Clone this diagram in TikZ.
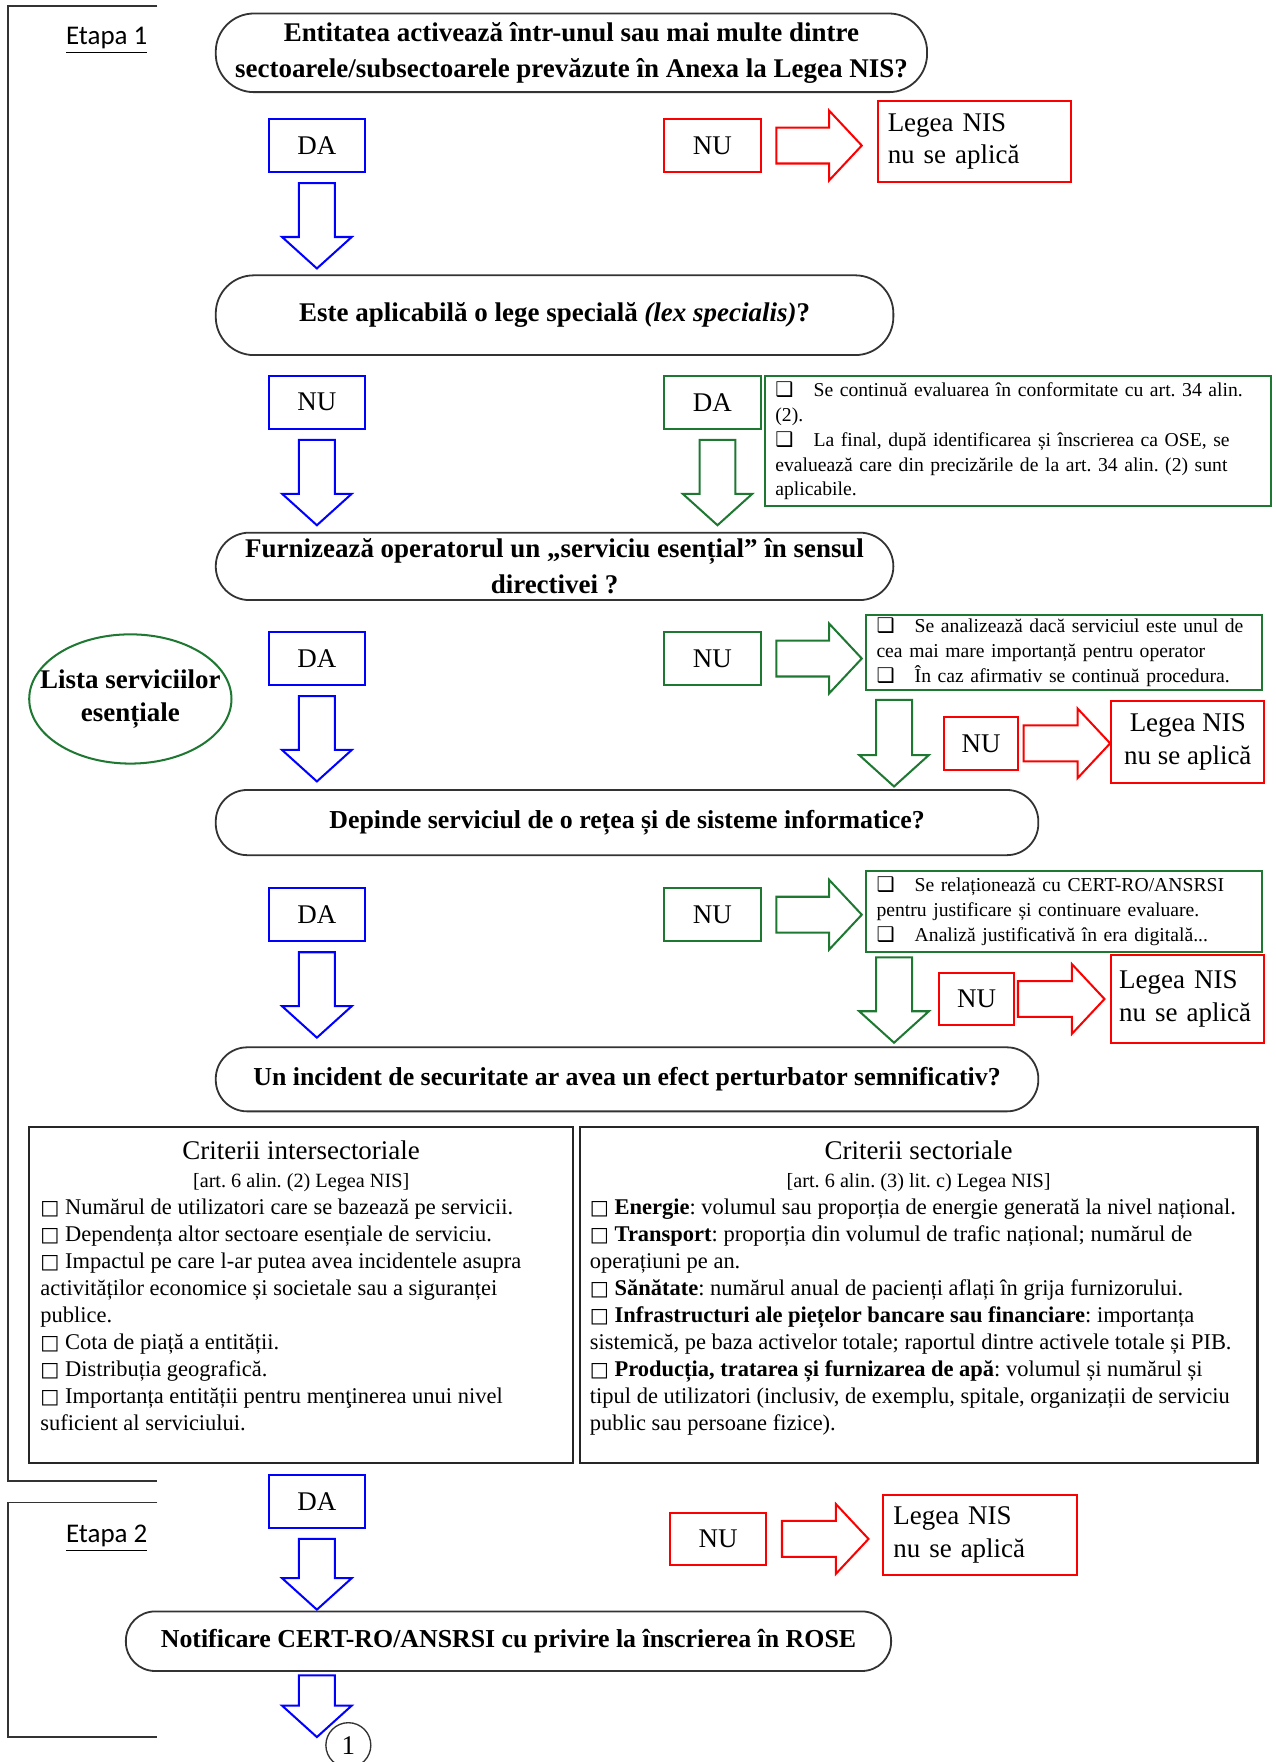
\documentclass[tikz,border=0pt]{standalone}
\usepackage{fontspec}
\setmainfont{Liberation Serif}
\newfontfamily\calibri{Carlito}
\newfontfamily\simbol{DejaVu Sans}
\usetikzlibrary{shapes,arrows,positioning,calc}
\frenchspacing
\definecolor{albastru}{RGB}{0,0,255}
\definecolor{rosu}{RGB}{250,0,0}
\definecolor{verde}{RGB}{30,120,50}
\newcommand{\bifa}{\makebox[17pt][l]{\simbol\fontsize{9}{8}\selectfont ❑}}
\newcommand{\casuta}{{\simbol\fontsize{9}{8}\selectfont □}}
\newcommand{\flechajos}[3]{\draw[sageata,#1] (#2) ++(-16,0) -- ++(32,0) -- ++(0,{#3-28}) -- ++(15,0) -- ++(-31,28) -- ++(-31,-28) -- ++(15,0) -- cycle;}
\newcommand{\flechadreapta}[3]{\draw[sageata,#1] (#2) ++(0,-16) -- ++({#3-29},0) -- ++(0,-15) -- ++(29,31) -- ++(-29,31) -- ++(0,-15) -- ++({29-#3},0) -- cycle;}
\tikzstyle{intrebare} = [draw=black!80, line width=0.8pt, rounded corners=14pt, inner sep=0pt, font=\bfseries\fontsize{11.5}{16}\selectfont, align=center]
\tikzstyle{mare} = [font=\bfseries\fontsize{12}{16}\selectfont]
\tikzstyle{raspuns} = [draw, line width=0.9pt, minimum width=43pt, minimum height=23.5pt, inner sep=0pt, font=\fontsize{12}{14}\selectfont]
\tikzstyle{nuaplica} = [draw=rosu, line width=0.9pt, inner ysep=0pt, font=\fontsize{12}{14.5}\selectfont]
\tikzstyle{nota} = [draw=verde, line width=0.9pt, inner xsep=4.5pt, inner ysep=0pt, align=left, font=\fontsize{8.75}{11}\selectfont]
\tikzstyle{criteriu} = [draw=black!85, line width=1pt, inner xsep=5pt, inner ysep=4pt]
\tikzstyle{sageata} = [line width=0.9pt, line join=miter]
\tikzstyle{etapa} = [font=\calibri\fontsize{12}{14}\selectfont]
\tikzstyle{cadru} = [line width=0.8pt, black!80]

\begin{document}
\begin{tikzpicture}[x=0.5pt, y=-0.5pt]
	\useasboundingbox (0,0) rectangle (1135,1568);
	\draw[cadru] (140,5) -- (7,5) -- (7,1318) -- (140,1318);
	\draw[cadru] (140,1337) -- (7,1337) -- (7,1546) -- (140,1546);
	\node[etapa] (etapa1) at (95,36) {\underline{Etapa 1}};
	\node[etapa] (etapa2) at (95,1369) {\underline{Etapa 2}};

	\node[intrebare, mare, minimum width=316.5pt, minimum height=35pt, rounded corners=17pt] (q1) at (508.5,47) {Entitatea activează într-unul sau mai multe dintre\\sectoarele/subsectoarele prevăzute în Anexa la Legea NIS?};
	\node[raspuns, draw=albastru] (da1) at (282,129.5) {DA};
	\node[raspuns, draw=rosu] (nu1) at (634,129.5) {NU};
	\node[nuaplica, minimum width=86pt, minimum height=36pt, text width=77pt, inner xsep=4.5pt, align=left] (na1) at (867,126) {Legea NIS\\nu se aplică};
	\flechajos{albastru}{$(da1.south)+(0,9)$}{76}
	\flechadreapta{rosu}{$(nu1.east)+(13,0)$}{76}

	\node[intrebare, mare, minimum width=301.5pt, minimum height=35.5pt, rounded corners=17pt] (q2) at (493.5,280.5) {Este aplicabilă o lege specială \textit{(lex specialis)}?};
	\node[raspuns, draw=albastru] (nu2) at (282,358) {NU};
	\node[raspuns, draw=verde] (da2) at (634,358) {DA};
	\node[nota, minimum width=225pt, minimum height=57.5pt, text width=216pt] (n1) at (906,392.5) {\bifa Se continuă evaluarea în conformitate cu art. 34 alin.\\(2).\\\bifa La final, după identificarea și înscrierea ca OSE, se\\evaluează care din precizările de la art. 34 alin. (2) sunt\\aplicabile.};
	\flechajos{albastru}{$(nu2.south)+(0,9)$}{76}
	\flechajos{verde}{$(da2.south)+(4.5,9)$}{76}

	\node[intrebare, mare, minimum width=301.5pt, minimum height=30pt, rounded corners=15pt] (q3) at (493.5,504) {Furnizează operatorul un „serviciu esențial” în sensul\\directivei ?};
	\node[ellipse, draw=verde, line width=0.9pt, minimum width=90pt, minimum height=57.5pt, inner sep=0pt] (lista) at (116,622) {};
	\node[font=\bfseries\fontsize{12}{14.5}\selectfont, align=center] (listatext) at (lista) {Lista serviciilor\\esențiale};
	\node[raspuns, draw=albastru] (da3) at (282,586) {DA};
	\node[raspuns, draw=verde] (nu3) at (634,586) {NU};
	\node[nota, minimum width=176pt, minimum height=33.5pt, text width=167pt] (n2) at (947,580.5) {\bifa Se analizează dacă serviciul este unul de\\cea mai mare importanță pentru operator\\\bifa În caz afirmativ se continuă procedura.};
	\flechajos{albastru}{$(da3.south)+(0,9)$}{76}
	\flechadreapta{verde}{$(nu3.east)+(13,0)$}{76}
	\flechajos{verde}{$(n2.south west)+(25.5,8)$}{77}
	\node[raspuns, draw=rosu, minimum width=33pt] (nu4) at (873,661.5) {NU};
	\node[nuaplica, minimum width=68pt, minimum height=36.5pt, inner xsep=0pt, align=center] (na2) at (1057,660.5) {Legea NIS\\nu se aplică};
	\flechadreapta{rosu}{$(nu4.east)+(4,0)$}{77}

	\node[intrebare, minimum width=366pt, minimum height=29pt] (q4) at (558,732) {Depinde serviciul de o rețea și de sisteme informatice?};
	\node[raspuns, draw=albastru] (da4) at (282,814) {DA};
	\node[raspuns, draw=verde] (nu5) at (634,814) {NU};
	\node[nota, minimum width=176pt, minimum height=36pt, text width=167pt] (n3) at (947,811) {\bifa Se relaționează cu CERT-RO/ANSRSI\\pentru justificare și continuare evaluare.\\\bifa Analiză justificativă în era digitală...};
	\flechajos{albastru}{$(da4.south)+(0,9)$}{76}
	\flechadreapta{verde}{$(nu5.east)+(13,0)$}{76}
	\flechajos{verde}{$(n3.south west)+(25.5,4)$}{76}
	\node[raspuns, draw=rosu, minimum width=33pt] (nu6) at (869,889) {NU};
	\node[nuaplica, minimum width=68pt, minimum height=39pt, text width=61pt, inner xsep=3.5pt, align=left] (na3) at (1057,889) {Legea NIS\\nu se aplică};
	\flechadreapta{rosu}{$(nu6.east)+(3,0)$}{77}

	\node[intrebare, minimum width=366pt, minimum height=28.5pt] (q5) at (558,960.5) {Un incident de securitate ar avea un efect perturbator semnificativ?};

	\node[criteriu] (crit1) at (268,1152.5) {%
		\begin{minipage}[c][141.5pt][t]{232pt}
			\vspace*{2pt}
			\fontsize{10}{12}\selectfont
			\centering
			{\fontsize{12}{13}\selectfont Criterii intersectoriale\par}
			{\fontsize{9}{12.5}\selectfont [art. 6 alin. (2) Legea NIS]\par}
			\raggedright
			\casuta\ Numărul de utilizatori care se bazează pe servicii.\\
			\casuta\ Dependența altor sectoare esențiale de serviciu.\\
			\casuta\ Impactul pe care l-ar putea avea incidentele asupra\\
			activităților economice și societale sau a siguranței\\
			publice.\\
			\casuta\ Cota de piață a entității.\\
			\casuta\ Distribuția geografică.\\
			\casuta\ Importanța entității pentru menţinerea unui nivel\\
			suficient al serviciului.
		\end{minipage}
	};
	\node[criteriu, inner xsep=4.5pt] (crit2) at (817.5,1152.5) {%
		\begin{minipage}[c][141.5pt][t]{292.5pt}
			\vspace*{2pt}
			\fontsize{10}{12}\selectfont
			\centering
			{\fontsize{12}{13}\selectfont Criterii sectoriale\par}
			{\fontsize{9}{12.5}\selectfont [art. 6 alin. (3) lit. c) Legea NIS]\par}
			\raggedright
			\casuta\ \textbf{Energie}: volumul sau proporția de energie generată la nivel național.\\
			\casuta\ \textbf{Transport}: proporția din volumul de trafic național; numărul de\\
			operațiuni pe an.\\
			\casuta\ \textbf{Sănătate}: numărul anual de pacienți aflați în grija furnizorului.\\
			\casuta\ \textbf{Infrastructuri ale piețelor bancare sau financiare}: importanța\\
			sistemică, pe baza activelor totale; raportul dintre activele totale și PIB.\\
			\casuta\ \textbf{Producția, tratarea și furnizarea de apă}: volumul și numărul și\\
			tipul de utilizatori (inclusiv, de exemplu, spitale, organizații de serviciu\\
			public sau persoane fizice).
		\end{minipage}
	};

	\node[raspuns, draw=albastru] (da5) at (282,1336) {DA};
	\node[raspuns, draw=rosu] (nu7) at (639,1369.5) {NU};
	\node[nuaplica, minimum width=86pt, minimum height=36pt, text width=77pt, inner xsep=4.5pt, align=left] (na4) at (872,1366) {Legea NIS\\nu se aplică};
	\flechajos{albastru}{$(da5.south)+(0,9)$}{63}
	\flechadreapta{rosu}{$(nu7.east)+(13,0)$}{77}

	\node[intrebare, minimum width=340.5pt, minimum height=26.5pt, rounded corners=13pt] (q6) at (452.5,1460.5) {Notificare CERT-RO/ANSRSI cu privire la înscrierea în ROSE};
	\node[draw=black!80, line width=0.6pt, circle, minimum size=20pt, inner sep=0pt, font=\fontsize{12}{14}\selectfont] (unu) at (310,1553) {1};
	\flechajos{albastru}{$(da5.south |- q6.south)+(0,3)$}{55}
\end{tikzpicture}
\end{document}
